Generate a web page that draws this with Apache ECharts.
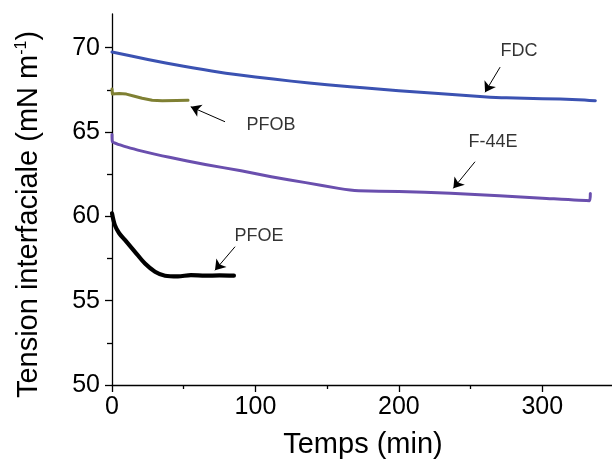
<!DOCTYPE html>
<html>
<head>
<meta charset="utf-8">
<script src="https://cdn.jsdelivr.net/npm/echarts@6/dist/echarts.min.js"></script>
<style>
  html, body { margin: 0; padding: 0; background: #fff; }
  #chart { width: 612px; height: 466px; }
</style>
</head>
<body>
<div id="chart"></div>
<script>
// Interfacial tension vs. time, [time (min), tension (mN/m)]
var fdc = [[0,69.75],[25,69.3],[50,68.9],[75,68.55],[100,68.27],[125,68.02],[150,67.81],[166,67.69],
  [175,67.62],[200,67.45],[225,67.3],[259,67.1],[275,67.03],[300,66.98],[325,66.92],[337,66.86]];
var pfob = [[0,67.55],[0.3,67.25],[5,67.28],[10,67.25],[15,67.14],[21,67.0],[28,66.88],[35,66.86],
  [45,66.87],[53,66.88]];
var f44e = [[0,64.85],[0.3,64.43],[5,64.25],[10,64.12],[18,63.93],[40,63.5],[65,63.08],[90,62.7],
  [111,62.35],[135,62.0],[158,61.66],[166,61.56],[172,61.52],[200,61.47],[236,61.37],[270,61.22],
  [300,61.08],[333,60.93],[333.5,61.35]];
var pfoe = [[0,60.18],[2,59.48],[5,59.0],[9,58.6],[16,57.9],[23,57.2],[30,56.72],[37,56.48],[46,56.44],
  [55,56.52],[65,56.48],[75,56.5],[85,56.48]];

// Axis ticks
var xMajor = [0, 100, 200, 300];
var xMinor = [50, 150, 250];
var yMajor = [50, 55, 60, 65, 70];
var yMinor = [52.5, 57.5, 62.5, 67.5];

// Curve labels: name, text position, arrow tail, arrow head
var labelNames = ['FDC', 'PFOB', 'F-44E', 'PFOE'];
var labelPos = [[283.8, 69.81], [110.9, 65.42], [265.7, 64.41], [102.5, 58.83]];
var arrowFrom = [[270.6, 68.85], [78.8, 65.61], [253.1, 63.24], [85.8, 58.2]];
var arrowTo = [[260.1, 67.36], [54.9, 66.5], [238.0, 61.66], [71.8, 56.8]];

var FONT = 'Liberation Sans, Arial, sans-serif';

var chart = echarts.init(document.getElementById('chart'), null, { renderer: 'canvas' });

function lineSeries(name, data, color, width, smooth) {
  return {
    name: name, type: 'line', data: data, showSymbol: false, symbol: 'none',
    smooth: smooth,
    lineStyle: { color: color, width: width, join: 'round', cap: 'round' },
    xAxisIndex: 0, yAxisIndex: 0, silent: true
  };
}

var labelData = labelNames.map(function (n, i) { return { name: n, value: labelPos[i] }; });
var arrowData = arrowFrom.map(function (a, i) { return [{ coord: a }, { coord: arrowTo[i] }]; });

chart.setOption({
  animation: false,
  backgroundColor: '#fff',
  grid: { left: 112, top: 14, right: -2, bottom: 81, containLabel: false, outerBoundsMode: 'none' },
  xAxis: [{
    type: 'value', min: 0, max: 350,
    name: 'Temps (min)', nameLocation: 'middle', nameGap: 45,
    nameTextStyle: { fontFamily: FONT, fontSize: 29, color: '#000' },
    axisLine: { show: true, lineStyle: { color: '#000', width: 1.3 } },
    axisTick: { show: true, inside: false, length: 7, customValues: xMajor, lineStyle: { color: '#000', width: 1.3 } },
    axisLabel: { show: true, customValues: xMajor, margin: 10, fontFamily: FONT, fontSize: 25, color: '#000' },
    splitLine: { show: false }
  }, {
    type: 'value', min: 0, max: 350, position: 'bottom',
    axisLine: { show: false },
    axisTick: { show: true, inside: false, length: 4, customValues: xMinor, lineStyle: { color: '#000', width: 1.3 } },
    axisLabel: { show: false }, splitLine: { show: false }
  }],
  yAxis: [{
    type: 'value', min: 50, max: 72,
    name: 'Tension interfaciale (mN m{sup|-1})', nameLocation: 'middle', nameGap: 69, nameRotate: 90,
    nameTextStyle: {
      fontFamily: FONT, fontSize: 29, color: '#000', padding: [0, 30, 0, 0],
      rich: { sup: { fontFamily: FONT, fontSize: 16, color: '#000', verticalAlign: 'top', padding: [0, 0, 12, 0] } }
    },
    axisLine: { show: true, lineStyle: { color: '#000', width: 1.3 } },
    axisTick: { show: true, inside: false, length: 7, customValues: yMajor, lineStyle: { color: '#000', width: 1.3 } },
    axisLabel: { show: true, customValues: yMajor, margin: 12, fontFamily: FONT, fontSize: 25, color: '#000' },
    splitLine: { show: false }
  }, {
    type: 'value', min: 50, max: 72, position: 'left',
    axisLine: { show: false },
    axisTick: { show: true, inside: false, length: 5, customValues: yMinor, lineStyle: { color: '#000', width: 1.3 } },
    axisLabel: { show: false }, splitLine: { show: false }
  }],
  series: [
    lineSeries('FDC', fdc, '#3b52b2', 3, 0.25),
    lineSeries('PFOB', pfob, '#7f8033', 3, false),
    lineSeries('F-44E', f44e, '#6a4fae', 3, 0.2),
    lineSeries('PFOE', pfoe, '#000000', 4.2, 0.3),
    {
      type: 'scatter', data: labelData, symbolSize: 1, silent: true,
      itemStyle: { color: 'rgba(0,0,0,0)' },
      label: {
        show: true, position: 'inside', formatter: '{b}',
        fontFamily: FONT, fontSize: 18, color: '#000', textBorderWidth: 0
      }
    },
    {
      type: 'line', data: [], silent: true,
      markLine: {
        silent: true, symbol: ['none', 'arrow'], symbolSize: 10,
        label: { show: false },
        itemStyle: { color: '#000' },
        lineStyle: { color: '#000', width: 1, type: 'solid' },
        emphasis: { disabled: true },
        data: arrowData
      }
    }
  ]
});
</script>
</body>
</html>
